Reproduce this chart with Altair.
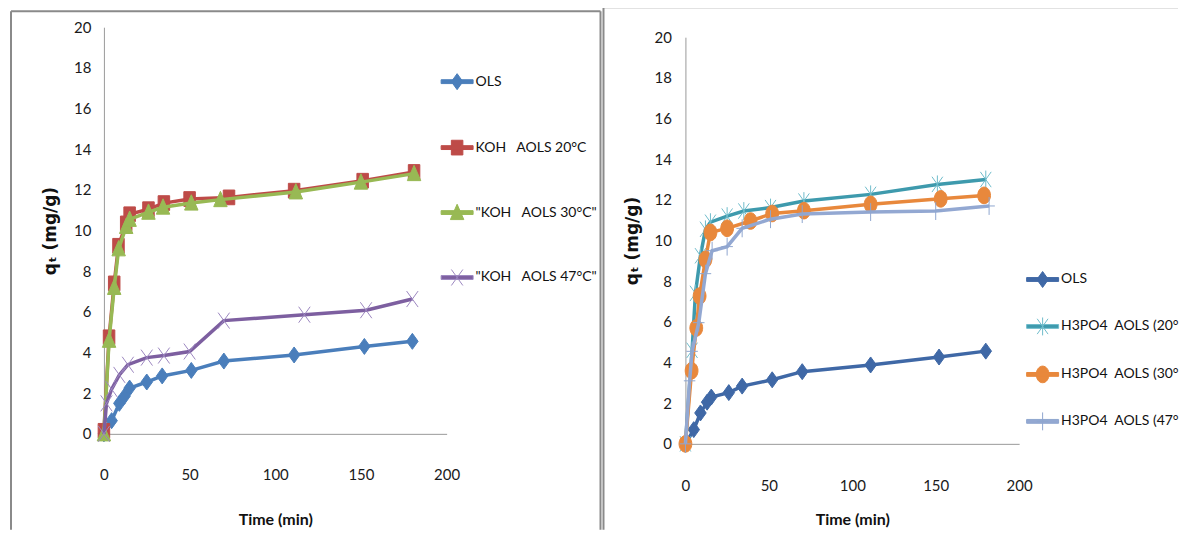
import altair as alt
import pandas as pd

FONT = "Lato"
NB = "\u00a0"

# ---------------- Left panel (KOH) ----------------
left_names = ["OLS", f"KOH{NB}{NB} AOLS 20°C", f"\"KOH{NB}{NB} AOLS 30°C\"", f"\"KOH{NB}{NB} AOLS 47°C\""]
left_colors = ["#4A7EBB", "#BE4B48", "#98B954", "#7D5FA0"]
left_marker_strokes = ["#4A7EBB", "#BE4B48", "#98B954", "#9C87C0"]

ols_l_t = [0, 4.5, 9, 12, 15, 25, 34, 51, 70, 111, 152, 180]
ols_l_q = [0, 0.65, 1.5, 1.85, 2.25, 2.55, 2.85, 3.12, 3.58, 3.88, 4.3, 4.55]
koh20_t = [0, 3, 6, 8.5, 13, 15, 26, 35, 50, 73, 111, 151, 181]
koh20_q = [0.15, 4.75, 7.4, 9.25, 10.35, 10.8, 11.05, 11.35, 11.55, 11.63, 11.96, 12.45, 12.88]
koh30_t = [0, 3, 6, 8.6, 13, 15, 26, 34.5, 51, 68, 112, 150, 181]
koh30_q = [0, 4.6, 7.2, 9.1, 10.2, 10.55, 10.9, 11.15, 11.35, 11.52, 11.9, 12.38, 12.8]
koh47_t = [0, 1.5, 4.5, 9, 14, 25, 35, 50, 70, 117, 153, 180]
koh47_q = [0, 1.5, 2.2, 2.9, 3.4, 3.75, 3.85, 4.05, 5.57, 5.86, 6.08, 6.63]

# ---------------- Right panel (H3PO4) ----------------
right_names = ["OLS", f"H3PO4{NB} AOLS (20°C)", f"H3PO4{NB} AOLS (30°C)", f"H3PO4{NB} AOLS (47°C)"]
right_colors = ["#3F68A6", "#3E9AAD", "#E8883C", "#93A8D2"]
right_marker_strokes = ["#3F68A6", "#6FBCCB", "#E8883C", "#8FA6CF"]

ols_r_t = [0, 5, 9, 13, 15.5, 26, 34, 52, 70, 111, 152, 180]
ols_r_q = [0, 0.7, 1.52, 2.05, 2.3, 2.52, 2.84, 3.15, 3.55, 3.88, 4.27, 4.56]
h20_t = [0, 4, 6, 9, 12, 15, 25, 35, 51, 71, 111, 151, 180]
h20_q = [0, 4.6, 7.4, 9.25, 10.55, 10.9, 11.2, 11.45, 11.62, 11.94, 12.27, 12.76, 13.0]
h30_t = [0, 3.7, 6.5, 8.5, 12, 15, 25, 39, 52, 71, 111, 153, 179]
h30_q = [0, 3.6, 5.7, 7.27, 9.07, 10.4, 10.6, 10.96, 11.33, 11.47, 11.78, 12.05, 12.22]
h47_t = [0, 2.5, 4, 8, 12, 16, 25, 34, 51, 70, 111, 150, 182]
h47_q = [0, 3.1, 4.55, 5.96, 8.37, 9.5, 9.7, 10.6, 11.05, 11.3, 11.4, 11.45, 11.7]

x_ticks = [0, 50, 100, 150, 200]
y_ticks = [0, 2, 4, 6, 8, 10, 12, 14, 16, 18, 20]

# marker paths (unit = 16 px at size 1024)
DIAMOND = "M0,-0.5L0.36,0L0,0.5L-0.36,0Z"
SQUARE = "M-0.36,-0.46H0.36V0.46H-0.36Z"
TRIANGLE = "M0,-0.52L0.42,0.44H-0.42Z"
XMARK = "M-0.36,-0.5L0.36,0.5M-0.36,0.5L0.36,-0.5"
CIRCLE = "M-0.4,0A0.4,0.52 0 1,1 0.4,0A0.4,0.52 0 1,1 -0.4,0Z"
ASTER = "M-0.34,-0.48L0.34,0.48M-0.34,0.48L0.34,-0.48M0,-0.56V0.56"
PLUS = "M-0.36,0H0.36M0,-0.56V0.56"
LINE = "M-1,-0.12H1V0.12H-1Z"

SIZE = 1024


def panel(names, ts, qs, colors, mstrokes, shapes, prefix, width, height, yrange, leg_x, leg_y,
          row_pad, label_expr, lab_pad, ylab_pad, title_y, frames):
    rows = []
    keys = [f"{prefix}{i}" for i in range(len(names))]
    for i in range(len(names)):
        for t, q in zip(ts[i], qs[i]):
            rows.append({"t": t, "q": q, "series": names[i], "key": keys[i]})
    df = pd.DataFrame(rows)
    dom = names + keys
    line_scale = alt.Scale(domain=names, range=colors)
    fscale = alt.Scale(domain=dom, range=colors + colors)
    kscale = alt.Scale(domain=dom, range=mstrokes + mstrokes)
    sscale = alt.Scale(domain=dom, range=[LINE + s for s in shapes] + shapes)
    leg_kw = dict(title=None, values=names, orient="none", legendX=leg_x, legendY=leg_y,
                  symbolSize=SIZE, rowPadding=row_pad, labelFont=FONT, labelFontSize=14,
                  labelColor="#111111", labelOffset=2, padding=0, symbolStrokeWidth=1,
                  labelLimit=400)
    if label_expr:
        leg_kw["labelExpr"] = label_expr
    leg = alt.Legend(**leg_kw)
    x = alt.X("t:Q", scale=alt.Scale(domain=[0, 200], nice=False),
              axis=alt.Axis(values=x_ticks, ticks=False, tickSize=0, grid=False, labelPadding=lab_pad,
                            labelFlush=False, labelFont=FONT, labelFontSize=15, labelColor="#1a1a1a",
                            domainColor="#9a9a9a", domainWidth=1, title="Time (min)",
                            titleFont=FONT, titleFontSize=16, titleFontWeight="bold",
                            titleColor="#111111", titleY=title_y, titleBaseline="alphabetic"))
    y = alt.Y("q:Q", scale=alt.Scale(domain=[0, 20], nice=False, range=yrange),
              axis=alt.Axis(values=y_ticks, ticks=False, tickSize=0, grid=False, labelPadding=ylab_pad,
                            labelFont=FONT, labelFontSize=15, labelColor="#1a1a1a",
                            domainColor="#9a9a9a", domainWidth=1, title="qₜ (mg/g)",
                            titleFont="DejaVu Sans", titleFontSize=17, titleFontWeight="bold",
                            titleColor="#111111", titleX=-53, titleBaseline="middle",
                            titleAngle=270))
    base = alt.Chart(df)
    layers = []
    one = alt.Data(values=[{"a": 1}])
    for f in frames:
        r = alt.Chart(one).mark_rule(color="#8a8a8a", strokeWidth=2)
        enc = {k: alt.value(v) for k, v in f.items()}
        layers.append(r.encode(**enc))
    for i in range(len(names)):
        sub = base.transform_filter(alt.datum.key == keys[i])
        line = sub.mark_line(strokeWidth=3.5).encode(
            x=x, y=y, color=alt.Color("series:N", scale=line_scale, legend=None))
        pts = sub.mark_point(filled=True, size=SIZE, strokeWidth=1, opacity=1).encode(
            x=x, y=y,
            fill=alt.Fill("key:N", scale=fscale, legend=leg),
            stroke=alt.Stroke("key:N", scale=kscale, legend=leg),
            shape=alt.Shape("key:N", scale=sscale, legend=leg))
        layers += [line, pts]
    return alt.layer(*layers).properties(width=width, height=height)


left = panel(left_names, [ols_l_t, koh20_t, koh30_t, koh47_t], [ols_l_q, koh20_q, koh30_q, koh47_q],
             left_colors, left_marker_strokes, [DIAMOND, SQUARE, TRIANGLE, XMARK], "L", 343, 407, [407, 0],
             337, 38, 39, None, 34, 13, 91,
             [dict(x=-93, x2=497, y=-16),
              dict(x=-93, y=-16, y2=503),
              dict(x=497, y=-16, y2=503)])

# the right-hand legend runs off the edge of the picture: only its visible part is kept
right = panel(right_names, [ols_r_t, h20_t, h30_t, h47_t], [ols_r_q, h20_q, h30_q, h47_q],
              right_colors, right_marker_strokes, [DIAMOND, ASTER, CIRCLE, PLUS], "R", 334, 417, [417, 10],
              341, 236, 20, "length(datum.label) > 4 ? slice(datum.label, 0, -2) : datum.label",
              35, 14, 81,
              [dict(x=-82, x2=493, y=-20),
               dict(x=-82, y=-20, y2=503)])

chart = alt.hconcat(left, right, spacing=1).resolve_scale(
    x="independent", y="independent", color="independent",
    fill="independent", stroke="independent", shape="independent"
).properties(
    padding={"left": 2, "top": -2, "right": 0, "bottom": 0}, background="white"
).configure(font=FONT).configure_view(stroke=None)

chart.save("out.html", embed_options={"renderer": "svg", "actions": False})
